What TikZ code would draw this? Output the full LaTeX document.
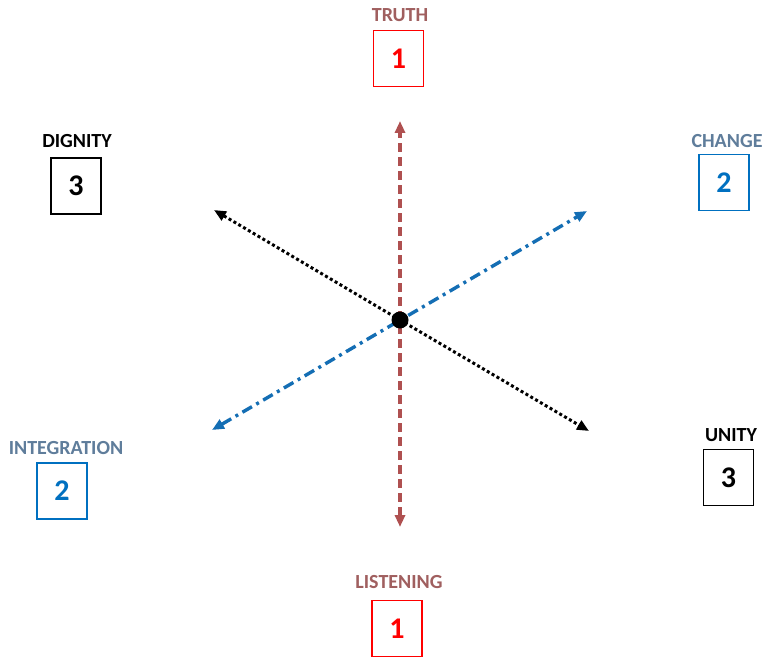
\documentclass[tikz,border=0pt]{standalone}
\usepackage{fontspec}
\setmainfont{Carlito}
\usetikzlibrary{arrows.meta}
\definecolor{truthc}{RGB}{175,80,80}
\definecolor{truthlab}{RGB}{160,95,95}
\definecolor{bluec}{RGB}{20,110,180}
\definecolor{bluelab}{RGB}{95,125,155}
\definecolor{numred}{RGB}{255,0,0}
\definecolor{numblue}{RGB}{0,112,192}
\tikzset{
  lab/.style={font=\fontsize{20}{22}\selectfont\bfseries, inner sep=0pt},
  numbox/.style={draw, line width=1.8pt, minimum width=50pt, minimum height=56pt, inner sep=0pt, font=\fontsize{30}{32}\selectfont\bfseries},
  tip/.style={-{Triangle[length=12pt,width=10pt]}},
  bitip/.style={{Triangle[length=12pt,width=10pt]}-{Triangle[length=12pt,width=10pt]}},
}
\begin{document}
\begin{tikzpicture}[x=1pt,y=-1pt]
\useasboundingbox (0,0) rectangle (776,658);
\fill[white] (0,0) rectangle (776,658);
% labels and boxes
\node[lab, text=truthlab] (ltruth) at (400,15) {TRUTH};
\node[numbox, draw=numred, text=numred] (btruth) at (398.5,58.5) {1};
\node[lab, text=black] (ldignity) at (77,141) {DIGNITY};
\node[numbox, draw=black, text=black] (bdignity) at (76,186) {3};
\node[lab, text=bluelab] (lchange) at (727,141) {CHANGE};
\node[numbox, draw=numblue, text=numblue] (bchange) at (724,182.5) {2};
\node[lab, text=bluelab] (linteg) at (66,448) {INTEGRATION};
\node[numbox, draw=numblue, text=numblue] (binteg) at (62,491) {2};
\node[lab, text=black] (lunity) at (731,435) {UNITY};
\node[numbox, draw=black, text=black] (bunity) at (728.5,477.5) {3};
\node[lab, text=truthlab] (llisten) at (399,582) {LISTENING};
\node[numbox, draw=numred, text=numred] (blisten) at (397,628.5) {1};
% axes
\coordinate (ttop) at (400,121);
\coordinate (tbot) at (400,527);
\coordinate (dul) at (214,210);
\coordinate (dlr) at (589,431);
\coordinate (bll) at (212,430);
\coordinate (bur) at (587,211);
\node[circle, fill=black, minimum width=15pt, minimum height=15pt, inner sep=0pt] (ctr) at (400,320) {};
\draw[tip, line width=3pt, black, dash pattern=on 3pt off 2.6pt] (ctr.center) -- (dul);
\draw[tip, line width=3pt, black, dash pattern=on 3pt off 2.6pt] (ctr.center) -- (dlr);
\draw[bitip, line width=3.4pt, bluec, dash pattern=on 11pt off 5pt on 3pt off 5pt] (bll) -- (bur);
\draw[bitip, line width=4.2pt, truthc, dash pattern=on 9pt off 5pt] (tbot) -- (ttop);
\node[circle, fill=black, minimum width=15pt, minimum height=17pt, inner sep=0pt] at (ctr) {};
\end{tikzpicture}
\end{document}
